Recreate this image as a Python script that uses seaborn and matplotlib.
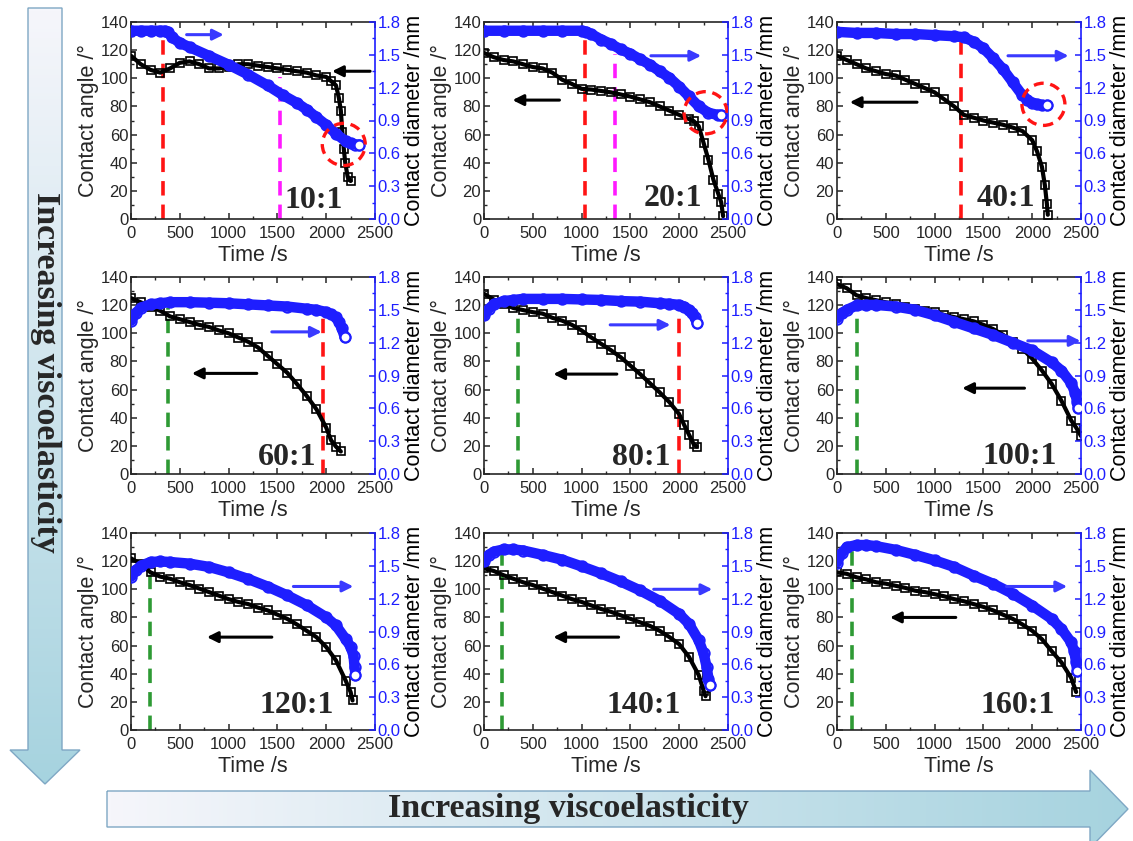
import numpy as np
import matplotlib
matplotlib.use("Agg")
import matplotlib.pyplot as plt
import seaborn as sns
from matplotlib.patches import Ellipse, Polygon
from matplotlib.colors import LinearSegmentedColormap
from matplotlib.ticker import MultipleLocator, FormatStrFormatter

# ---- data ---------------------------------------------------------------
ratios = ['10:1', '20:1', '40:1', '60:1', '80:1', '100:1', '120:1', '140:1', '160:1']

# contact angle (deg) vs time (s)
t_ang_10 = [0, 100, 200, 300, 400, 500, 600, 700, 800, 900, 1000, 1100, 1200, 1300, 1400, 1500,
            1600, 1700, 1800, 1900, 2000, 2050, 2100, 2130, 2150, 2165, 2180, 2195, 2220, 2250]
ang_10 = [116, 110, 106, 104, 107, 111, 112, 110, 107, 107, 108, 110, 110, 109, 108, 107,
          106, 105, 104, 102, 101, 98, 95, 86, 77, 62, 50, 40, 30, 27]
t_ang_20 = [0, 100, 200, 300, 400, 500, 600, 700, 800, 900, 1000, 1100, 1200, 1300, 1400, 1500,
            1600, 1700, 1800, 1900, 2000, 2100, 2150, 2200, 2250, 2300, 2350, 2400, 2430, 2450]
ang_20 = [118, 115, 113, 112, 110, 108, 107, 104, 99, 96, 92.5, 92, 91, 90, 88.5, 87,
          85, 83, 80, 77, 74, 71, 69.5, 66, 54, 42, 28, 18, 12, 2]
t_ang_40 = [0, 100, 200, 300, 400, 500, 600, 700, 800, 900, 1000, 1100, 1200, 1300, 1400, 1500,
            1600, 1700, 1800, 1900, 2000, 2050, 2100, 2130, 2150, 2160]
ang_40 = [116, 113, 110, 107, 105, 103, 102, 99, 96, 93, 90, 85, 80, 74, 72, 70,
          68.5, 67, 65, 62.5, 56, 48, 37, 24, 11, 3]
t_ang_60 = [0, 100, 200, 300, 400, 500, 600, 700, 800, 900, 1000, 1100, 1200, 1300, 1400, 1500,
            1600, 1700, 1800, 1900, 2000, 2050, 2100, 2150]
ang_60 = [125, 122, 119, 116, 112, 110, 108, 106, 104.5, 102, 100, 97, 94, 90, 84, 78,
          72, 64, 55.5, 46, 33, 24, 19.5, 16]
t_ang_80 = [0, 100, 200, 300, 400, 500, 600, 700, 800, 900, 1000, 1100, 1200, 1300, 1400, 1500,
            1600, 1700, 1800, 1900, 2000, 2050, 2100, 2150, 2180]
ang_80 = [128, 124, 121, 118, 116.5, 115, 114, 111, 109, 106, 102, 97, 92.5, 88, 83, 77,
          71, 64.5, 58, 51, 42.5, 35, 28, 21, 19.5]
t_ang_100 = [0, 100, 200, 300, 400, 500, 600, 700, 800, 900, 1000, 1100, 1200, 1300, 1400, 1500,
             1600, 1700, 1800, 1900, 2000, 2100, 2200, 2300, 2400, 2450, 2500]
ang_100 = [135, 132, 127, 125, 123.5, 122, 121, 119, 117.5, 116, 115, 113, 111.5, 110, 108.5, 106,
           103, 99, 94, 89, 82, 73.5, 64, 52, 38, 33, 27]
t_ang_120 = [0, 100, 200, 300, 400, 500, 600, 700, 800, 900, 1000, 1100, 1200, 1300, 1400, 1500,
             1600, 1700, 1800, 1900, 2000, 2100, 2200, 2250, 2270]
ang_120 = [122, 118, 112, 109, 107.5, 105, 103, 100.5, 98, 95.5, 93, 91, 89.5, 87, 85, 82,
           79, 75, 70.5, 66, 59, 49.5, 35, 27, 21]
t_ang_140 = [0, 100, 200, 300, 400, 500, 600, 700, 800, 900, 1000, 1100, 1200, 1300, 1400, 1500,
             1600, 1700, 1800, 1900, 2000, 2100, 2200, 2250, 2270]
ang_140 = [115, 113, 110, 107.5, 105, 103, 100.5, 98, 95.5, 93, 91, 88.5, 86, 84, 81.5, 79,
           76.5, 74, 70.5, 66, 61, 52, 39, 28, 24]
t_ang_160 = [0, 100, 200, 300, 400, 500, 600, 700, 800, 900, 1000, 1100, 1200, 1300, 1400, 1500,
             1600, 1700, 1800, 1900, 2000, 2100, 2200, 2300, 2400, 2450]
ang_160 = [112, 111, 108.5, 107, 105, 104, 102.5, 101, 99, 98, 96.5, 95, 93, 91.5, 89.5, 87.5,
           85, 82, 79, 75, 70.5, 64.5, 56, 48, 37, 27]

# contact diameter (mm) vs time (s)
t_dia_10 = [0, 100, 200, 300, 350, 380, 420, 500, 600, 800, 1000, 1200, 1400, 1560, 1700, 1800,
            1900, 2000, 2100, 2200, 2250, 2300, 2340]
dia_10 = [1.72, 1.72, 1.72, 1.72, 1.72, 1.71, 1.66, 1.61, 1.57, 1.49, 1.41, 1.32, 1.22, 1.13, 1.06, 1.00,
          0.93, 0.86, 0.78, 0.71, 0.69, 0.68, 0.68]
t_dia_20 = [0, 200, 400, 600, 800, 1000, 1050, 1100, 1200, 1300, 1400, 1500, 1600, 1700, 1800, 1900,
            2000, 2100, 2200, 2300, 2400, 2430]
dia_20 = [1.72, 1.72, 1.72, 1.72, 1.72, 1.72, 1.71, 1.69, 1.64, 1.60, 1.55, 1.51, 1.46, 1.41, 1.35, 1.29,
          1.21, 1.12, 1.03, 0.97, 0.95, 0.95]
t_dia_40 = [0, 200, 400, 600, 800, 1000, 1200, 1300, 1400, 1500, 1600, 1700, 1800, 1900, 1950, 2000,
            2050, 2100, 2150]
dia_40 = [1.71, 1.70, 1.70, 1.69, 1.69, 1.68, 1.67, 1.66, 1.62, 1.56, 1.47, 1.37, 1.25, 1.13, 1.09, 1.06,
          1.05, 1.04, 1.04]
t_dia_60 = [0, 50, 100, 200, 300, 400, 600, 800, 1000, 1200, 1400, 1600, 1800, 1900, 2000, 2050,
            2100, 2130, 2160, 2190]
dia_60 = [1.40, 1.47, 1.52, 1.55, 1.56, 1.57, 1.57, 1.565, 1.56, 1.55, 1.54, 1.53, 1.51, 1.50, 1.48, 1.46,
          1.43, 1.39, 1.33, 1.25]
t_dia_80 = [0, 50, 100, 200, 300, 400, 600, 800, 1000, 1200, 1400, 1600, 1800, 1900, 2000, 2050,
            2100, 2130, 2160, 2180]
dia_80 = [1.45, 1.51, 1.55, 1.58, 1.59, 1.60, 1.60, 1.60, 1.595, 1.59, 1.58, 1.575, 1.56, 1.555, 1.545, 1.53,
          1.50, 1.47, 1.43, 1.38]
t_dia_100 = [0, 50, 100, 200, 300, 400, 600, 800, 1000, 1200, 1400, 1600, 1800, 2000, 2200, 2300,
             2400, 2440, 2460, 2470]
dia_100 = [1.42, 1.47, 1.50, 1.54, 1.545, 1.545, 1.53, 1.50, 1.45, 1.39, 1.33, 1.27, 1.20, 1.13, 1.02, 0.945,
           0.83, 0.74, 0.66, 0.60]
t_dia_120 = [0, 50, 100, 200, 300, 400, 600, 800, 1000, 1200, 1400, 1600, 1800, 2000, 2100, 2200,
             2250, 2280, 2290, 2300]
dia_120 = [1.40, 1.46, 1.50, 1.535, 1.54, 1.535, 1.52, 1.49, 1.44, 1.38, 1.31, 1.23, 1.14, 1.03, 0.955, 0.83,
           0.76, 0.68, 0.58, 0.50]
t_dia_140 = [0, 50, 100, 200, 300, 400, 600, 800, 1000, 1200, 1400, 1600, 1800, 2000, 2100, 2200,
             2250, 2280, 2300, 2320]
dia_140 = [1.54, 1.60, 1.63, 1.65, 1.65, 1.64, 1.60, 1.556, 1.495, 1.43, 1.357, 1.275, 1.18, 1.06, 0.97, 0.82,
           0.70, 0.58, 0.47, 0.41]
t_dia_160 = [0, 50, 100, 200, 300, 400, 600, 800, 1000, 1200, 1400, 1600, 1800, 2000, 2200, 2300,
             2400, 2430, 2450, 2460]
dia_160 = [1.53, 1.62, 1.67, 1.69, 1.69, 1.68, 1.646, 1.60, 1.55, 1.49, 1.41, 1.336, 1.245, 1.137, 1.015, 0.923,
           0.80, 0.72, 0.62, 0.54]

angle_series = [(t_ang_10, ang_10), (t_ang_20, ang_20), (t_ang_40, ang_40),
                (t_ang_60, ang_60), (t_ang_80, ang_80), (t_ang_100, ang_100),
                (t_ang_120, ang_120), (t_ang_140, ang_140), (t_ang_160, ang_160)]
diam_series = [(t_dia_10, dia_10), (t_dia_20, dia_20), (t_dia_40, dia_40),
               (t_dia_60, dia_60), (t_dia_80, dia_80), (t_dia_100, dia_100),
               (t_dia_120, dia_120), (t_dia_140, dia_140), (t_dia_160, dia_160)]

# marker lines: (time, top in deg)
red_marks = {'10:1': (330, 128), '20:1': (1030, 127), '40:1': (1270, 127),
             '60:1': (1970, 112), '80:1': (2000, 115)}
magenta_marks = {'10:1': (1530, 101), '20:1': (1340, 117)}
green_marks = {'60:1': (375, 118), '80:1': (350, 118), '100:1': (200, 115),
               '120:1': (190, 113), '140:1': (180, 125), '160:1': (150, 132)}
circled = {'10:1': (2180, 53), '20:1': (2270, 75.5), '40:1': (2115, 81.5)}

# direction arrows: (start t, end t, height in deg)
blue_arrows = [(570, 950, 131), (1710, 2225, 116), (1752, 2372, 116),
               (1443, 1954, 101), (1293, 1910, 106), (1955, 2495, 94.6),
               (1664, 2278, 102), (1739, 2339, 100), (1736, 2358, 102)]
black_arrows = [(2450, 2060, 105), (773, 292, 84.5), (820, 131, 83),
                (1289, 624, 71.5), (1361, 710, 71), (1921, 1283, 61),
                (1443, 778, 66), (1379, 710, 66), (1217, 543, 80)]
label_pos = [(2170, 8), (2232, 9), (2028, 9), (1903, 6.5), (1910, 6.5),
             (2248, 7), (2074, 12), (2013, 12), (2237, 12)]

# ---- style ---------------------------------------------------------------
sns.set_style("ticks")
plt.rcParams['font.family'] = ['Liberation Sans', 'DejaVu Sans']
plt.rcParams['xtick.direction'] = 'in'
plt.rcParams['ytick.direction'] = 'in'
SERIF = ['Liberation Serif', 'DejaVu Serif']
BLUE = '#1e1eff'
ARROW_BLUE = '#3a3aff'

W, H = 1133, 841
fig = plt.figure(figsize=(W / 100, H / 100), dpi=100)

# background layer with gradient arrows
bg = fig.add_axes([0, 0, 1, 1], zorder=-5)
bg.set_xlim(0, W)
bg.set_ylim(H, 0)
bg.axis('off')
cmap = LinearSegmentedColormap.from_list('arr', ['#f6f6fb', '#a6d3df'])

v_arrow = Polygon([(28, 8), (62, 8), (62, 750), (80, 750), (45, 784), (10, 750), (28, 750)],
                  closed=True, facecolor='none', edgecolor='#7ea7c4', lw=1.0, zorder=3)
h_arrow = Polygon([(107, 791), (1090, 791), (1090, 770), (1128, 809), (1090, 848),
                   (1090, 827), (107, 827)],
                  closed=True, facecolor='none', edgecolor='#7ea7c4', lw=1.0, zorder=3)
bg.add_patch(v_arrow)
bg.add_patch(h_arrow)
grad = np.linspace(0, 1, 256)
im_v = bg.imshow(grad[:, None], cmap=cmap, extent=(8, 82, 784, 8), aspect='auto', zorder=1)
im_v.set_clip_path(v_arrow)
im_h = bg.imshow(grad[None, :], cmap=cmap, extent=(107, 1130, 850, 768), aspect='auto', zorder=1)
im_h.set_clip_path(h_arrow)
bg.set_xlim(0, W)
bg.set_ylim(H, 0)
bg.text(45, 372, 'Increasing viscoelasticity', rotation=-90, ha='center', va='center',
        fontsize=24.5, fontweight='bold', family=SERIF)
bg.text(568, 809, 'Increasing viscoelasticity', ha='center', va='center',
        fontsize=24.5, fontweight='bold', family=SERIF)

col_left = [131, 484, 837]
row_top = [22, 277, 533]
aw, ah = 244, 197

for i, name in enumerate(ratios):
    r, c = divmod(i, 3)
    ax = fig.add_axes([col_left[c] / W, 1 - (row_top[r] + ah) / H, aw / W, ah / H])
    ax2 = ax.twinx()

    ta, ya = angle_series[i]
    td, yd = diam_series[i]

    # marker lines
    if name in red_marks:
        t, top = red_marks[name]
        ax.plot([t, t], [0, top], color='#ff1414', ls=(0, (4, 2.5)), lw=2.6, zorder=1)
    if name in magenta_marks:
        t, top = magenta_marks[name]
        ax.plot([t, t], [0, top], color='#ff1aff', ls=(0, (4, 2.5)), lw=2.6, zorder=1)
    if name in green_marks:
        t, top = green_marks[name]
        ax.plot([t, t], [0, top], color='#2e9a34', ls=(0, (4, 2.5)), lw=2.6, zorder=1)

    sns.lineplot(x=ta, y=ya, ax=ax, sort=False, estimator=None, color='black',
                 lw=3, marker='s', markersize=6, markerfacecolor='none',
                 markeredgecolor='black', markeredgewidth=1.2, zorder=3)
    sns.lineplot(x=td, y=yd, ax=ax2, sort=False, estimator=None, color=BLUE,
                 lw=7.5, marker='o', markersize=7.5, markerfacecolor='none',
                 markeredgecolor=BLUE, markeredgewidth=1.4, zorder=3)
    # last point stands out as open circle
    ax2.plot(td[-1:], yd[-1:], 'o', ms=7, mfc='white', mec=BLUE, mew=1.4, zorder=4)

    if name in circled:
        cx, cy = circled[name]
        ax2.add_patch(Ellipse((cx, cy), 440, 30, transform=ax.transData, fill=False,
                              edgecolor='#ff1414', ls=(0, (3, 2)), lw=2.4, zorder=6))

    b0, b1, by = blue_arrows[i]
    ax2.annotate('', xy=(b1, by), xytext=(b0, by), xycoords=ax.transData,
                 textcoords=ax.transData,
                 arrowprops=dict(arrowstyle='-|>', color=ARROW_BLUE, lw=2.2,
                                 mutation_scale=16, shrinkA=0, shrinkB=0), zorder=7)
    k0, k1, ky = black_arrows[i]
    ax2.annotate('', xy=(k1, ky), xytext=(k0, ky), xycoords=ax.transData,
                 textcoords=ax.transData,
                 arrowprops=dict(arrowstyle='-|>', color='black', lw=2.2,
                                 mutation_scale=16, shrinkA=0, shrinkB=0), zorder=7)

    lx, ly = label_pos[i]
    ax2.text(lx, ly, name, transform=ax.transData, ha='right', va='baseline',
             fontsize=23, fontweight='bold', family=SERIF, zorder=8)

    ax.set_xlim(0, 2500)
    ax.set_ylim(0, 140)
    ax2.set_ylim(0, 1.8)
    ax.xaxis.set_major_locator(MultipleLocator(500))
    ax.xaxis.set_minor_locator(MultipleLocator(250))
    ax.yaxis.set_major_locator(MultipleLocator(20))
    ax.yaxis.set_minor_locator(MultipleLocator(10))
    ax2.yaxis.set_major_locator(MultipleLocator(0.3))
    ax2.yaxis.set_minor_locator(MultipleLocator(0.15))
    ax2.yaxis.set_major_formatter(FormatStrFormatter('%.1f'))

    ax.tick_params(axis='both', which='major', labelsize=12, length=4, width=1.1,
                   pad=2, top=True)
    ax.tick_params(axis='x', which='major', pad=5)
    ax.tick_params(axis='both', which='minor', length=2, width=1, top=True)
    ax2.tick_params(axis='y', which='major', labelsize=12, length=4, width=1.1, pad=2,
                    colors=BLUE)
    ax2.tick_params(axis='y', which='minor', length=2, width=1, colors=BLUE)
    for sp in ax.spines.values():
        sp.set_linewidth(1.2)
    for key in ['left', 'top', 'bottom']:
        ax2.spines[key].set_visible(False)
    ax2.spines['right'].set_color(BLUE)
    ax2.spines['right'].set_linewidth(1.2)
    ax.spines['right'].set_visible(False)

    ax.set_xlabel('Time /s', fontsize=15.5, labelpad=3)
    ax.set_ylabel('Contact angle /\u00b0', fontsize=15.5)
    ax.yaxis.set_label_coords(-0.13, 0.5)
    ax2.set_ylabel('Contact diameter /mm', fontsize=15.5, color='black')
    ax2.yaxis.set_label_coords(1.12, 0.5)

fig.savefig('out.png', dpi=100)
